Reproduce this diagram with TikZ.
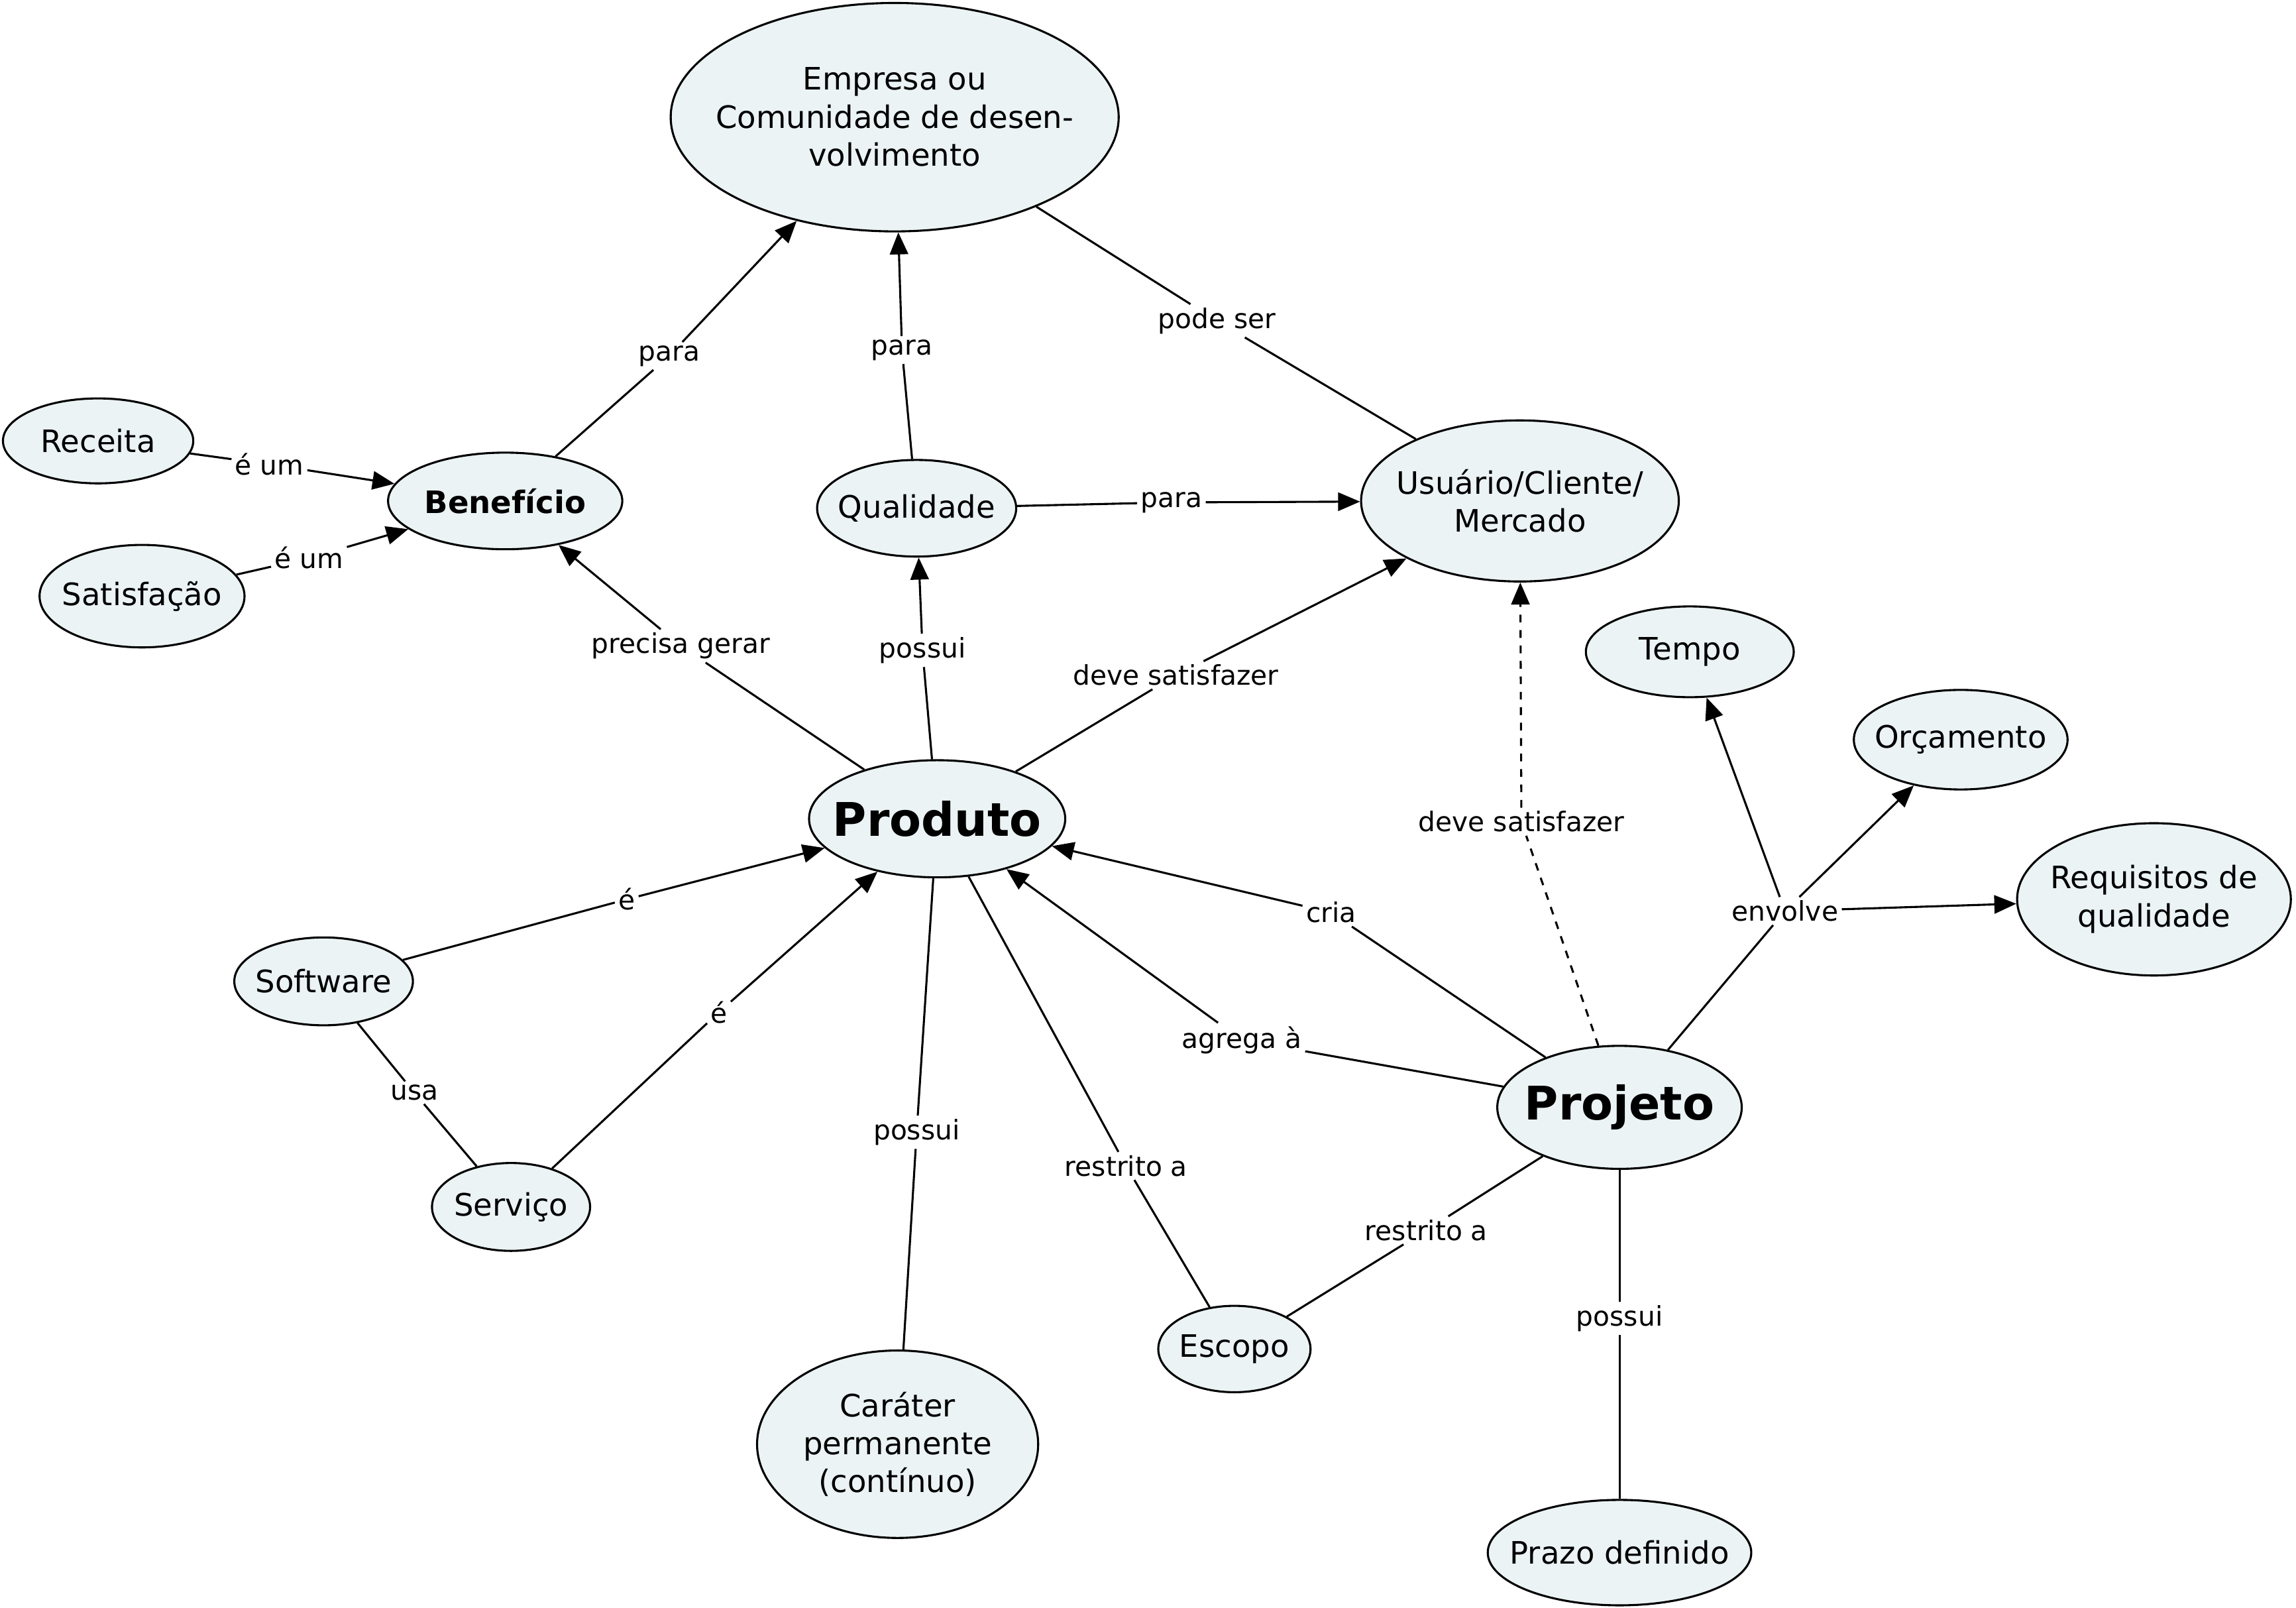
\documentclass[tikz,border=0pt]{standalone}
\usepackage{fontspec}
\setmainfont{DejaVu Sans}
\usepackage{tikz}
\usetikzlibrary{arrows.meta, shapes.geometric, positioning}
\definecolor{conceptfill}{HTML}{EBF3F4}
\newcommand{\relation}[3]
{
	\draw (#1) -- (#2);
	\draw[-{Triangle[length=0.3cm, width=0.25cm]}] (#2) -- (#3);
}
\newcommand{\relationPLAIN}[3]
{
	\draw (#1) -- (#2);
	\draw (#2) -- (#3);
}
\newcommand{\relationDASHED}[3]
{
	\draw[dashed] (#1) -- (#2);
	\draw[dashed, -{Triangle[length=0.3cm, width=0.25cm]}] (#2) -- (#3);
}
\tikzset{
	concept/.style={shape=ellipse, draw=black, fill=conceptfill, line width=0.8pt,
		inner sep=-40pt, align=center, font=\fontsize{12}{14.8}\selectfont},
	bigconcept/.style={concept, font=\fontsize{18}{21}\selectfont\bfseries},
	linklabel/.style={inner sep=1pt, font=\fontsize{10.5}{12.6}\selectfont}
}

\begin{document}
\begin{tikzpicture}[x=0.02cm, y=-0.02cm, line width=0.8pt]
	\useasboundingbox (0,0) rectangle (1568,1097.8);

	% concepts
	\node[concept, minimum width=6.12cm, minimum height=3.12cm] (Empresa) at (611,80) {Empresa ou\\Comunidade de desen-\\volvimento};
	\node[concept, minimum width=2.6cm, minimum height=1.16cm] (Receita) at (67,301) {Receita};
	\node[concept, minimum width=3.2cm, minimum height=1.32cm, font=\fontsize{12}{14.8}\selectfont\bfseries] (Beneficio) at (345,342) {Benefício};
	\node[concept, minimum width=2.8cm, minimum height=1.4cm] (Satisfacao) at (97,407) {Satisfação};
	\node[concept, minimum width=2.72cm, minimum height=1.32cm] (Qualidade) at (626,347) {Qualidade};
	\node[concept, minimum width=4.34cm, minimum height=2.2cm] (Usuario) at (1038,342) {Usuário/Cliente/\\Mercado};
	\node[concept, minimum width=2.84cm, minimum height=1.24cm] (Tempo) at (1154,445) {Tempo};
	\node[concept, minimum width=2.92cm, minimum height=1.36cm] (Orcamento) at (1339,505) {Orçamento};
	\node[concept, minimum width=3.74cm, minimum height=2.08cm] (Requisitos) at (1471,614) {Requisitos de\\qualidade};
	\node[bigconcept, minimum width=3.5cm, minimum height=1.6cm] (Produto) at (640,559) {Produto};
	\node[concept, minimum width=2.44cm, minimum height=1.2cm] (Software) at (221,670) {Software};
	\node[concept, minimum width=2.16cm, minimum height=1.2cm] (Servico) at (349,824) {Serviço};
	\node[concept, minimum width=3.84cm, minimum height=2.56cm] (Carater) at (613,986) {Caráter\\permanente\\(contínuo)};
	\node[concept, minimum width=2.08cm, minimum height=1.18cm] (Escopo) at (843,921) {Escopo};
	\node[bigconcept, minimum width=3.34cm, minimum height=1.68cm] (Projeto) at (1106,756) {Projeto};
	\node[concept, minimum width=3.6cm, minimum height=1.44cm] (Prazo) at (1106,1060) {Prazo definido};

	% linking phrases
	\node[linklabel] (lPara1) at (457,243) {para};
	\node[linklabel] (lPara2) at (616,239) {para};
	\node[linklabel] (lPode) at (831,219) {pode ser};
	\node[linklabel] (lEum1) at (184,317) {é um};
	\node[linklabel] (lEum2) at (211,381) {é um};
	\node[linklabel] (lPara3) at (800,343) {para};
	\node[linklabel] (lPrecisa) at (465,441) {precisa gerar};
	\node[linklabel] (lPossui1) at (630,444) {possui};
	\node[linklabel] (lDeve1) at (803,461) {deve satisfazer};
	\node[linklabel] (lE1) at (428,614) {é};
	\node[linklabel] (lE2) at (491,691) {é};
	\node[linklabel] (lUsa) at (283,746) {usa};
	\node[linklabel] (lPossui2) at (626,773) {possui};
	\node[linklabel] (lRestrito1) at (769,796) {restrito a};
	\node[linklabel] (lCria) at (909,623) {cria};
	\node[linklabel] (lAgrega) at (848,710) {agrega à};
	\node[linklabel] (lDeve2) at (1039,561) {deve satisfazer};
	\node[linklabel] (lEnvolve) at (1219,622) {envolve};
	\node[linklabel] (lRestrito2) at (974,840) {restrito a};
	\node[linklabel] (lPossui3) at (1106,900) {possui};

	% links
	\relation{Beneficio}{lPara1}{Empresa}
	\relation{Qualidade}{lPara2}{Empresa}
	\relationPLAIN{Empresa}{lPode}{Usuario}
	\relation{Receita}{lEum1}{Beneficio}
	\relation{Satisfacao}{lEum2}{Beneficio}
	\relation{Qualidade}{lPara3}{Usuario}
	\relation{Produto}{lPrecisa}{Beneficio}
	\relation{Produto}{lPossui1}{Qualidade}
	\relation{Produto}{lDeve1}{Usuario}
	\relation{Software}{lE1}{Produto}
	\relation{Servico}{lE2}{Produto}
	\relationPLAIN{Software}{lUsa}{Servico}
	\relationPLAIN{Produto}{lPossui2}{Carater}
	\relationPLAIN{Produto}{lRestrito1}{Escopo}
	\relation{Projeto}{lCria}{Produto}
	\relation{Projeto}{lAgrega}{Produto}
	\relationDASHED{Projeto}{lDeve2}{Usuario}
	\draw (Projeto) -- (lEnvolve);
	\draw[-{Triangle[length=0.3cm, width=0.25cm]}] (lEnvolve) -- (Tempo);
	\draw[-{Triangle[length=0.3cm, width=0.25cm]}] (lEnvolve) -- (Orcamento);
	\draw[-{Triangle[length=0.3cm, width=0.25cm]}] (lEnvolve) -- (Requisitos);
	\relationPLAIN{Projeto}{lRestrito2}{Escopo}
	\relationPLAIN{Projeto}{lPossui3}{Prazo}
\end{tikzpicture}
\end{document}
